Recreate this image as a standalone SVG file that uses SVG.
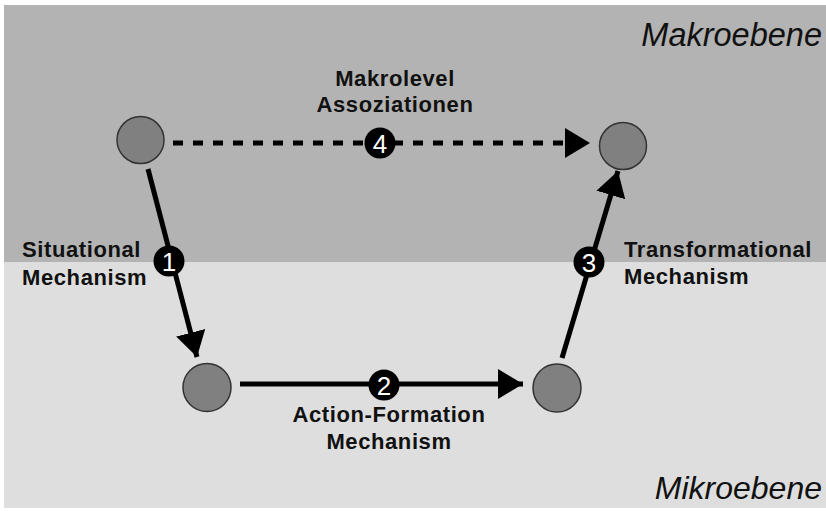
<svg xmlns="http://www.w3.org/2000/svg" width="826" height="511" viewBox="0 0 826 511">
<defs>
<style>
.lbl{font-family:"Liberation Sans",Arial,sans-serif;font-weight:bold;font-size:22px;letter-spacing:0.6px;fill:#111}
.lvl{font-family:"Liberation Sans",Arial,sans-serif;font-style:italic;font-size:32px;fill:#111}
.node{fill:#808080;stroke:#333;stroke-width:1.5}
.edge{stroke:#000;stroke-width:5;fill:none}
.badge{fill:#000}
.num{font-family:"Liberation Sans",Arial,sans-serif;font-size:26px;fill:#fff;text-anchor:middle}
</style>
<marker id="ah" viewBox="0 0 25 30" refX="25" refY="15" markerWidth="25" markerHeight="30" markerUnits="userSpaceOnUse" orient="auto">
<path d="M0,0 L25,15 L0,30 Z" fill="#000"/>
</marker>
</defs>
<rect x="0" y="0" width="826" height="511" fill="#fff"/>
<rect x="4" y="5" width="822" height="257" fill="#b3b3b3"/>
<rect x="4" y="262" width="822" height="246" fill="#dedede"/>
<text class="lvl" x="822" y="46" text-anchor="end" style="font-size:32.5px">Makroebene</text>
<text class="lvl" x="822" y="499" text-anchor="end">Mikroebene</text>
<g id="connectors">
<line class="edge" x1="173" y1="143" x2="590" y2="143" stroke-dasharray="10 10" marker-end="url(#ah)"/>
<line class="edge" x1="148" y1="169" x2="197" y2="357" marker-end="url(#ah)"/>
<line class="edge" x1="240" y1="384" x2="523" y2="384" marker-end="url(#ah)"/>
<line class="edge" x1="562" y1="358" x2="618" y2="171" marker-end="url(#ah)"/>
</g>
<g id="node-macro-left"><circle class="node" cx="140.5" cy="140" r="23.5"/></g>
<g id="node-macro-right"><circle class="node" cx="623" cy="146" r="23.5"/></g>
<g id="node-micro-left"><circle class="node" cx="207" cy="387.5" r="24"/></g>
<g id="node-micro-right"><circle class="node" cx="557" cy="388" r="24"/></g>
<g id="label-4">
<circle class="badge" cx="380" cy="143" r="15.5"/>
<text class="num" x="380" y="152.5">4</text>
<text class="lbl" x="395" y="86" text-anchor="middle">Makrolevel</text>
<text class="lbl" x="395" y="112" text-anchor="middle">Assoziationen</text>
</g>
<g id="label-1">
<circle class="badge" cx="169" cy="261" r="15.5"/>
<text class="num" x="169" y="270.5">1</text>
<text class="lbl" x="22" y="257">Situational</text>
<text class="lbl" x="22" y="285">Mechanism</text>
</g>
<g id="label-2">
<circle class="badge" cx="384" cy="385" r="15.5"/>
<text class="num" x="384" y="394.5">2</text>
<text class="lbl" x="389" y="422" text-anchor="middle">Action-Formation</text>
<text class="lbl" x="389" y="449" text-anchor="middle">Mechanism</text>
</g>
<g id="label-3">
<circle class="badge" cx="589" cy="262" r="15.5"/>
<text class="num" x="589" y="271.5">3</text>
<text class="lbl" x="624" y="257">Transformational</text>
<text class="lbl" x="624" y="284">Mechanism</text>
</g>
</svg>
